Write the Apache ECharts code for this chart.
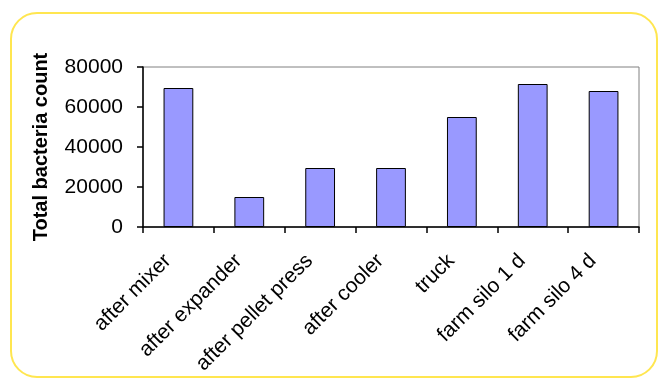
<!DOCTYPE html>
<html>
<head>
<meta charset="utf-8">
<script src="https://cdn.jsdelivr.net/npm/echarts@6/dist/echarts.min.js"></script>
<style>
  html, body { margin: 0; padding: 0; background: #fff; }
  #chart { width: 659px; height: 381px; }
</style>
</head>
<body>
<div id="chart"></div>
<script>
// bacteria counts along the feed production chain
const stages = ["after mixer", "after expander", "after pellet press", "after cooler", "truck", "farm silo 1 d", "farm silo 4 d"];
const counts = [69500, 15000, 29500, 29500, 55000, 71500, 68000];
const yTicks = [0, 20000, 40000, 60000, 80000];

const chart = echarts.init(document.getElementById("chart"));

const option = {
    animation: false,
    textStyle: { fontFamily: "Liberation Sans, Arial, sans-serif" },
    graphic: [
        {
            // rounded yellow frame around the whole chart
            type: "rect",
            shape: { x: 11, y: 13, width: 646, height: 364, r: 26 },
            style: { fill: "none", stroke: "#FFE650", lineWidth: 2 },
            z: -10
        }
    ],
    grid: {
        left: 143, right: 20, top: 67, bottom: 154,
        show: true,
        borderColor: "#808080",
        borderWidth: 1,
        backgroundColor: "#fff"
    },
    xAxis: {
        type: "category",
        data: stages,
        axisLine: { lineStyle: { color: "#000", width: 1.5 } },
        axisTick: { show: true, length: 6, lineStyle: { color: "#000", width: 1.5 } },
        axisLabel: {
            interval: 0,
            rotate: 45,
            margin: 20,
            padding: [0, 15, 0, 0],
            fontSize: 21,
            color: "#000"
        }
    },
    yAxis: {
        type: "value",
        min: yTicks[0],
        max: yTicks[yTicks.length - 1],
        interval: 20000,
        name: "Total bacteria count",
        nameLocation: "middle",
        nameGap: 92,
        nameTextStyle: { fontSize: 20, fontWeight: "bold", color: "#000" },
        axisLine: { show: true, lineStyle: { color: "#000", width: 1.5 } },
        axisTick: { show: true, length: 6, lineStyle: { color: "#000", width: 1.5 } },
        axisLabel: { fontSize: 21, color: "#000", margin: 20, formatter: (v) => String(v) },
        splitLine: { show: false }
    },
    series: [
        {
            type: "bar",
            data: counts,
            barWidth: "42%",
            itemStyle: { color: "#9999FF", borderColor: "#000", borderWidth: 1 }
        }
    ]
};

chart.setOption(option);
</script>
</body>
</html>
